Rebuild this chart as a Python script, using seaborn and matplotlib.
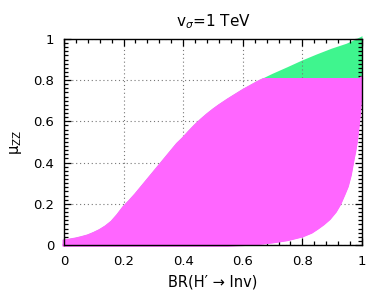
import seaborn as sns
import matplotlib.pyplot as plt
from matplotlib.patches import Rectangle
from matplotlib.ticker import MultipleLocator, FormatStrFormatter

# upper-left edge of the scanned points: BR(H' -> Inv) vs mu_ZZ
br_up = [0.0, 0.02, 0.04, 0.06, 0.08, 0.1, 0.12, 0.14, 0.16, 0.18, 0.2, 0.22,
         0.24, 0.26, 0.28, 0.3, 0.32, 0.34, 0.36, 0.38, 0.4, 0.42, 0.44, 0.46,
         0.48, 0.5, 0.52, 0.55, 0.6, 0.65, 0.7, 0.75, 0.8, 0.85, 0.9, 0.95,
         0.98, 0.998]
mu_up = [0.02, 0.025, 0.03, 0.037, 0.045, 0.057, 0.071, 0.089, 0.112, 0.145,
         0.183, 0.213, 0.245, 0.28, 0.315, 0.35, 0.385, 0.42, 0.455, 0.49,
         0.518, 0.55, 0.58, 0.607, 0.632, 0.655, 0.676, 0.705, 0.75, 0.79,
         0.825, 0.857, 0.89, 0.92, 0.948, 0.972, 0.992, 1.005]

# lower-right edge
br_lo = [0.0, 0.1, 0.2, 0.3, 0.4, 0.5, 0.55, 0.6, 0.65, 0.7, 0.75, 0.8, 0.83,
         0.85, 0.87, 0.89, 0.91, 0.925, 0.94, 0.95, 0.96, 0.965, 0.97, 0.975,
         0.98, 0.985, 0.99, 0.994, 0.998]
mu_lo = [0.0, 0.0, 0.0, 0.0, 0.0, 0.0, 0.0, 0.003, 0.008, 0.016, 0.027, 0.045,
         0.063, 0.082, 0.103, 0.128, 0.163, 0.2, 0.25, 0.285, 0.34, 0.38, 0.42,
         0.455, 0.5, 0.56, 0.63, 0.7, 0.81]

mu_cut = 0.81  # magenta below, green above

magenta = '#ff66ff'
green = '#3ff58e'

sns.set_style('ticks')
plt.rcParams['font.family'] = ['DejaVu Sans']
plt.rcParams.update({'text.color': 'black', 'axes.labelcolor': 'black',
                     'xtick.color': 'black', 'ytick.color': 'black'})

fig = plt.figure(figsize=(3.74, 2.97), dpi=100)
ax = fig.add_axes([0.171, 0.175, 0.797, 0.694])

poly_x = br_up + br_lo[::-1]
poly_y = mu_up + mu_lo[::-1]

# whole region in green, then the magenta part below the cut on top
ax.fill(poly_x, poly_y, color=green, lw=1.5, clip_on=False, zorder=2)
mag = ax.fill(poly_x, poly_y, color=magenta, lw=2.0, zorder=3)[0]
mag.set_clip_path(Rectangle((-0.05, -0.05), 1.1, mu_cut + 0.05,
                            transform=ax.transData))
sns.lineplot(x=br_lo, y=mu_lo, color=magenta, lw=2.5, ax=ax, sort=False,
             clip_on=False, zorder=3)

ax.set_xlim(0, 1)
ax.set_ylim(0, 1)
ax.xaxis.set_major_locator(MultipleLocator(0.2))
ax.yaxis.set_major_locator(MultipleLocator(0.2))
ax.xaxis.set_minor_locator(MultipleLocator(0.04))
ax.yaxis.set_minor_locator(MultipleLocator(0.02))
ax.xaxis.set_major_formatter(FormatStrFormatter('%g'))
ax.yaxis.set_major_formatter(FormatStrFormatter('%g'))
ax.tick_params(which='both', direction='in', top=True, right=True,
               labelsize=9.5, width=0.9)
ax.tick_params(which='major', length=5)
ax.tick_params(which='minor', length=3)
ax.tick_params(axis='x', which='major', pad=7)
ax.tick_params(axis='y', which='major', pad=7)
ax.grid(True, which='major', ls=(0, (1, 2.5)), color='#777777', lw=0.8)
ax.set_axisbelow(False)
for s in ax.spines.values():
    s.set_linewidth(1.0)
    s.set_color('black')
    s.set_zorder(5)

ax.set_title(r'v$_{\sigma}$=1 TeV', fontsize=11, pad=9)
ax.set_xlabel('BR(H′ → Inv)', fontsize=10.5, labelpad=5)
ax.set_ylabel('μ$_{\\rm ZZ}$', fontsize=10.5, labelpad=7)

fig.savefig('out.png', dpi=100)
